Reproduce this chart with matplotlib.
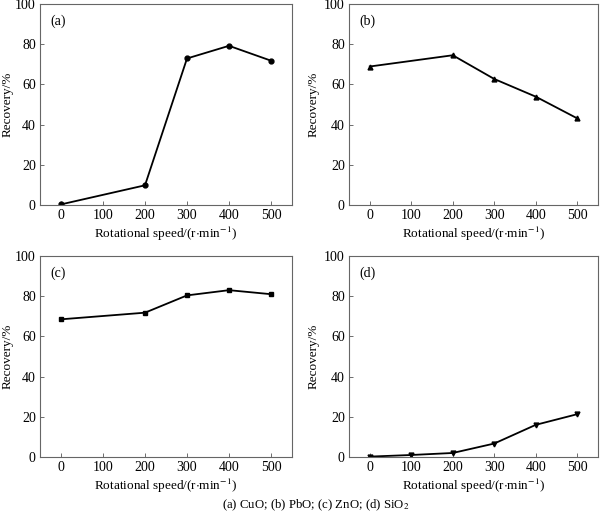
import matplotlib
matplotlib.use("Agg")
import matplotlib.pyplot as plt

plt.rcParams['font.family'] = ['Liberation Serif', 'DejaVu Serif']
plt.rcParams['mathtext.fontset'] = 'stix'

speed_a = [0, 200, 300, 400, 500]
cuo = [0.3, 9.8, 72.9, 79.2, 71.8]

speed_b = [0, 200, 300, 400, 500]
pbo = [68.9, 74.5, 62.7, 53.9, 43.1]

speed_c = [0, 200, 300, 400, 500]
zno = [68.5, 71.8, 80.4, 83.0, 81.0]

speed_d = [0, 100, 200, 300, 400, 500]
sio2 = [0.2, 1.0, 2.0, 6.7, 16.0, 21.3]

panels = [
    ("(a)", speed_a, cuo, "o", 3.5),
    ("(b)", speed_b, pbo, "^", 3.5),
    ("(c)", speed_c, zno, "s", 3.3),
    ("(d)", speed_d, sio2, "v", 3.5),
]

fig = plt.figure(figsize=(6.0, 5.19), dpi=100)
W, H = 600.0, 519.0
# axes boxes in pixels: left, top, right, bottom, ylabel right edge
boxes = [
    (40, 4, 292, 205, 14),
    (349, 4, 598, 205, 320),
    (40, 256, 292, 457, 14),
    (349, 256, 598, 457, 320),
]

for (label, x, y, mk, ms), (l, t, r, b, yl) in zip(panels, boxes):
    ax = fig.add_axes([l / W, 1 - b / H, (r - l) / W, (b - t) / H])
    ax.plot(x, y, color="black", lw=1.3, marker=mk, ms=ms)
    ax.set_xlim(-50, 550)
    ax.set_ylim(0, 100)
    ax.set_xticks([0, 100, 200, 300, 400, 500])
    ax.set_yticks([0, 20, 40, 60, 80, 100])
    ax.tick_params(direction="in", length=3, width=0.6, labelsize=10,
                   color="#555555", pad=3)
    for s in ax.spines.values():
        s.set_color("#666666")
        s.set_linewidth(0.8)
    ax.set_xlabel(r"Rotational speed/(r$\cdot$min$^{-1}$)", fontsize=9.5)
    ax.set_ylabel("Recovery/%", fontsize=9.5)
    ax.xaxis.set_label_coords(0.5, -20.0 / (b - t))
    ax.yaxis.set_label_coords((yl - l) / (r - l), 0.5)
    ax.text(0.04, 0.95, label, transform=ax.transAxes, fontsize=10,
            va="top", ha="left")

fig.text(316 / W, 1 - 505 / H, r"(a) CuO; (b) PbO; (c) ZnO; (d) SiO$_2$",
         ha="center", va="center", fontsize=9.2)

fig.savefig("out.png", dpi=100)
